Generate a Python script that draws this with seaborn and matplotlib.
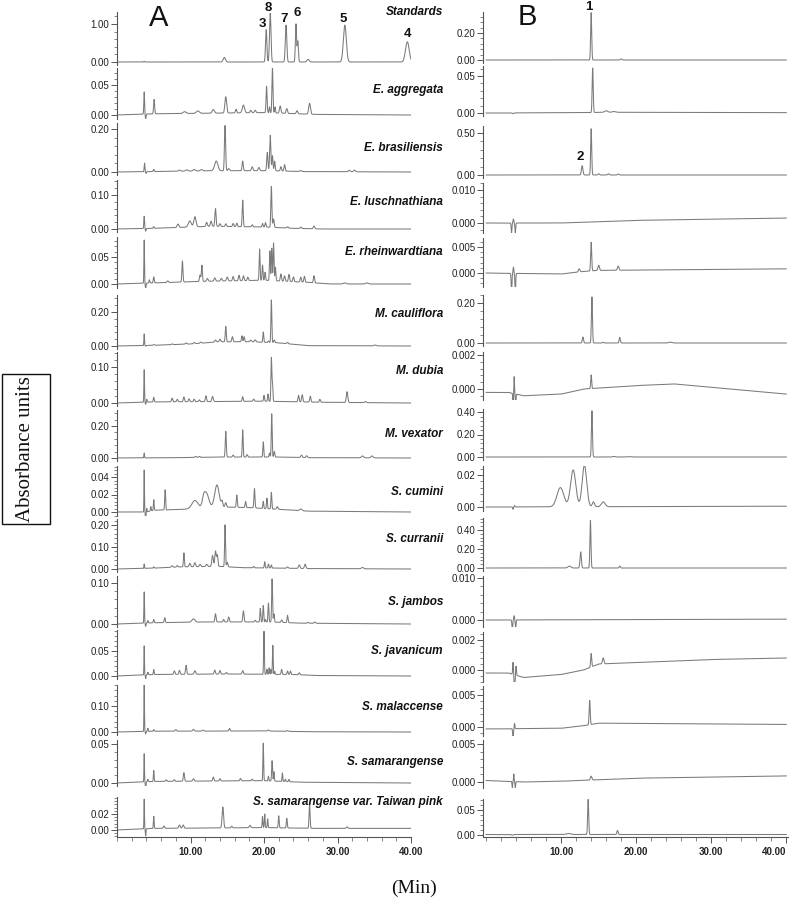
import numpy as np
import matplotlib
matplotlib.use("Agg")
import matplotlib.pyplot as plt
import seaborn as sns
from matplotlib.ticker import FixedLocator, AutoMinorLocator, MultipleLocator, FormatStrFormatter
from matplotlib.patches import Rectangle

sns.set_theme(style="white")
plt.rcParams['font.family'] = ['Liberation Sans', 'DejaVu Sans']

# ---------------- data ----------------
samples = ["Standards", "E. aggregata", "E. brasiliensis", "E. luschnathiana",
           "E. rheinwardtiana", "M. cauliflora", "M. dubia", "M. vexator",
           "S. cumini", "S. curranii", "S. jambos", "S. javanicum",
           "S. malaccense", "S. samarangense", "S. samarangense var. Taiwan pink"]

# peak tables: (retention time [min], height [AU], width sigma [min])
A_standards = [(3.7,0.02,0.04),(14.6,0.12,0.15),(20.3,0.85,0.09),(20.85,1.28,0.1),(23.0,0.97,0.1),
               (24.35,1.0,0.08),(24.6,0.55,0.08),(26.0,0.07,0.15),(31.0,0.97,0.2),(39.5,0.53,0.25)]
A_aggregata = [(3.7,0.037,0.05),(3.9,-0.008,0.05),(5.05,0.024,0.07),(9.2,0.003,0.2),(11.0,0.004,0.2),
               (13.1,0.006,0.15),(14.8,0.027,0.12),(16.2,0.006,0.08),(17.2,0.013,0.15),(18.2,0.004,0.1),
               (18.8,0.004,0.1),(20.35,0.044,0.07),(20.75,0.01,0.06),(21.15,0.075,0.07),(21.5,0.01,0.06),
               (22.2,0.012,0.1),(23.1,0.008,0.1),(24.5,0.005,0.1),(26.2,0.018,0.12)]
A_aggregata_base = [(0,0),(5,0.002),(20,0.004),(27,0.001),(40,0.0)]
A_brasiliensis = [(3.75,0.04,0.05),(3.95,-0.008,0.05),(5.0,0.01,0.07),(8.5,0.005,0.15),(9.5,0.006,0.15),
                  (10.5,0.007,0.15),(11.5,0.006,0.15),(13.5,0.045,0.22),(14.7,0.21,0.08),(15.2,0.01,0.1),
                  (17.1,0.045,0.08),(18.4,0.018,0.1),(19.3,0.015,0.1),(20.45,0.085,0.08),(20.85,0.165,0.08),
                  (21.15,0.07,0.07),(21.45,0.045,0.07),(22.3,0.02,0.08),(22.8,0.03,0.08),(25.0,0.005,0.12),
                  (31.6,0.007,0.12),(32.3,0.008,0.12)]
A_brasiliensis_base = [(0,0),(5,0.002),(13,0.006),(21,0.006),(25,0.002),(40,0)]
A_luschnathiana = [(3.7,0.036,0.05),(3.9,-0.008,0.05),(5.0,0.005,0.07),(8.3,0.01,0.12),(9.9,0.018,0.2),
                   (10.6,0.03,0.15),(12.2,0.012,0.1),(12.8,0.015,0.1),(13.4,0.052,0.08),(14.0,0.008,0.08),
                   (14.8,0.008,0.08),(15.8,0.009,0.08),(16.3,0.01,0.08),(17.1,0.078,0.07),(18.4,0.006,0.08),
                   (19.8,0.01,0.07),(20.2,0.013,0.07),(21.0,0.12,0.07),(21.3,0.025,0.08),(23.2,0.004,0.1),
                   (25.0,0.004,0.1),(26.8,0.008,0.1)]
A_luschnathiana_base = [(0,0),(5,0.002),(9,0.005),(13,0.008),(20,0.006),(24,0.002),(28,0.0),(40,0)]
A_rheinwardtiana = [(3.7,0.08,0.04),(3.9,-0.01,0.05),(4.4,0.006,0.06),(5.0,0.011,0.07),(6.9,0.003,0.1),
                    (8.9,0.039,0.07),(11.3,0.012,0.08),(11.55,0.03,0.07),(12.3,0.005,0.1),(13.3,0.006,0.1),
                    (14.2,0.005,0.1),(15.0,0.007,0.1),(15.8,0.008,0.08),(16.6,0.01,0.08),(17.2,0.009,0.08),
                    (17.8,0.006,0.08),(19.4,0.058,0.06),(19.8,0.028,0.06),(20.15,0.015,0.06),(20.8,0.055,0.06),
                    (21.05,0.06,0.06),(21.3,0.07,0.06),(21.55,0.025,0.06),(22.3,0.013,0.08),(22.8,0.01,0.08),
                    (23.4,0.013,0.08),(24.0,0.009,0.08),(25.0,0.009,0.08),(25.5,0.011,0.08),(26.8,0.013,0.08),
                    (31.0,0.002,0.2),(34.0,0.002,0.2)]
A_rheinwardtiana_base = [(0,0),(5,0.002),(12,0.005),(20,0.007),(26,0.003),(29,0.0),(40,0)]
A_cauliflora = [(3.7,0.068,0.04),(3.9,-0.004,0.05),(5.0,0.004,0.1),(7.5,0.004,0.1),(9.4,0.007,0.1),
                (10.5,0.007,0.1),(11.4,0.006,0.1),(13.4,0.012,0.1),(14.0,0.015,0.1),(14.8,0.09,0.07),
                (15.7,0.03,0.08),(17.0,0.035,0.07),(17.3,0.03,0.07),(18.2,0.01,0.1),(18.8,0.012,0.1),
                (19.9,0.06,0.06),(20.6,0.008,0.06),(21.0,0.25,0.06),(21.4,0.015,0.07),(23.2,0.008,0.1),
                (35.1,0.005,0.15)]
A_cauliflora_base = [(0,0),(5,0.004),(10,0.012),(14,0.025),(18,0.025),(21.5,0.02),(24,0.01),(26,0.002),(40,0)]
A_dubia = [(3.7,0.09,0.04),(3.9,-0.006,0.05),(4.05,0.008,0.05),(5.0,0.013,0.06),(7.5,0.01,0.08),
           (8.2,0.007,0.08),(9.1,0.013,0.08),(9.8,0.008,0.08),(10.5,0.007,0.08),(11.2,0.005,0.08),
           (12.1,0.016,0.08),(13.0,0.014,0.1),(17.1,0.013,0.07),(18.6,0.006,0.08),(20.0,0.016,0.06),
           (20.55,0.02,0.06),(21.0,0.12,0.06),(21.15,0.05,0.06),(24.7,0.018,0.08),(25.2,0.02,0.08),
           (26.3,0.016,0.08),(27.6,0.008,0.08),(31.3,0.03,0.1),(33.8,0.003,0.1)]
A_dubia_base = [(0,0),(5,0.003),(20,0.005),(28,0.002),(40,0)]
A_vexator = [(3.7,0.03,0.04),(10.7,0.006,0.1),(11.2,0.006,0.1),(14.8,0.16,0.07),(15.8,0.012,0.08),
             (17.1,0.17,0.06),(17.7,0.015,0.08),(19.9,0.095,0.06),(20.75,0.025,0.06),(21.05,0.27,0.06),
             (21.4,0.035,0.07),(25.1,0.015,0.1),(25.8,0.012,0.1),(33.4,0.012,0.15),(34.7,0.012,0.15)]
A_vexator_base = [(0,0),(8,0.002),(14,0.006),(22,0.006),(26,0.002),(40,0)]
A_cumini = [(3.7,0.048,0.035),(3.9,-0.008,0.04),(4.05,0.004,0.04),(4.6,0.005,0.05),(5.0,0.012,0.05),
            (6.55,0.023,0.06),(10.6,0.009,0.4),(11.8,0.01,0.2),(12.2,0.015,0.3),(13.6,0.025,0.3),
            (14.3,0.006,0.1),(14.8,0.005,0.1),(16.3,0.014,0.07),(17.5,0.007,0.07),(18.7,0.022,0.07),
            (19.9,0.008,0.06),(20.4,0.012,0.06),(21.0,0.019,0.06),(21.8,0.003,0.1),(25.0,0.002,0.15)]
A_cumini_base = [(0,0),(4,0.0),(5,0.002),(9,0.003),(13,0.006),(18,0.005),(22,0.003),(26,0.001),(40,0)]
A_currani = [(3.7,0.02,0.04),(5.0,0.006,0.06),(7.5,0.007,0.1),(8.2,0.007,0.1),(9.1,0.063,0.06),
             (9.9,0.015,0.1),(10.6,0.018,0.1),(11.3,0.01,0.1),(12.2,0.01,0.1),(13.0,0.05,0.1),
             (13.4,0.07,0.1),(13.65,0.05,0.08),(14.7,0.19,0.06),(15.0,0.02,0.08),(18.6,0.006,0.08),
             (20.1,0.028,0.06),(20.6,0.018,0.06),(21.0,0.014,0.06),(23.2,0.006,0.1),(24.8,0.016,0.1),
             (25.6,0.02,0.1),(33.4,0.006,0.15)]
A_currani_base = [(0,0),(5,0.004),(9,0.01),(14,0.012),(17,0.006),(22,0.004),(26,0.002),(40,0)]
A_jambos = [(3.7,0.076,0.04),(3.9,-0.008,0.05),(4.2,0.006,0.05),(5.0,0.008,0.06),(6.5,0.012,0.07),
            (10.4,0.008,0.2),(13.4,0.02,0.08),(14.5,0.006,0.08),(15.2,0.012,0.08),(17.2,0.027,0.08),
            (18.8,0.004,0.08),(19.5,0.033,0.06),(19.9,0.04,0.06),(20.2,0.006,0.05),(20.6,0.046,0.06),
            (21.1,0.105,0.06),(21.35,0.02,0.06),(22.4,0.006,0.08),(23.2,0.018,0.07),(26.0,0.002,0.1),
            (26.9,0.003,0.1)]
A_jambos_base = [(0,0),(5,0.003),(12,0.005),(21,0.005),(25,0.002),(40,0)]
A_javanicum = [(3.7,0.058,0.035),(3.9,-0.008,0.04),(4.2,0.005,0.05),(5.0,0.01,0.05),(7.8,0.007,0.08),
               (8.5,0.008,0.08),(9.4,0.018,0.08),(10.6,0.007,0.1),(13.3,0.008,0.08),(14.0,0.007,0.08),
               (14.9,0.003,0.08),(17.1,0.007,0.08),(20.0,0.086,0.05),(20.4,0.01,0.05),(20.7,0.013,0.05),
               (20.95,0.01,0.05),(21.2,0.058,0.05),(21.45,0.006,0.05),(22.4,0.01,0.07),(23.2,0.007,0.07),
               (23.6,0.007,0.07),(24.8,0.004,0.08)]
A_javanicum_base = [(0,0),(5,0.003),(15,0.004),(24,0.003),(27,0.001),(40,0)]
A_malaccense = [(3.7,0.18,0.035),(3.9,-0.01,0.04),(4.2,0.012,0.05),(5.0,0.006,0.06),(8.0,0.006,0.1),
                (10.4,0.007,0.1),(11.7,0.004,0.1),(15.3,0.01,0.08),(20.6,0.004,0.1),(23.2,0.003,0.1)]
A_malaccense_base = [(0,0),(5,0.003),(20,0.004),(26,0.001),(40,0)]
A_samarangense = [(3.7,0.036,0.035),(3.9,-0.009,0.04),(4.2,0.003,0.05),(5.0,0.014,0.05),(6.7,0.002,0.08),
                  (7.8,0.002,0.08),(9.1,0.011,0.08),(10.4,0.003,0.1),(13.1,0.005,0.08),(14.0,0.003,0.08),
                  (16.8,0.003,0.08),(18.4,0.002,0.08),(19.9,0.048,0.05),(20.6,0.006,0.05),(21.1,0.026,0.06),
                  (21.35,0.012,0.05),(22.5,0.011,0.05),(22.9,0.003,0.06),(23.4,0.003,0.06)]
A_samarangense_base = [(0,0),(5,0.002),(20,0.003),(25,0.001),(40,0.0)]
A_taiwanpink = [(3.7,0.037,0.035),(3.9,-0.009,0.04),(5.0,0.015,0.05),(6.4,0.003,0.08),(8.5,0.004,0.1),
                (9.0,0.004,0.1),(14.4,0.026,0.1),(15.6,0.002,0.08),(18.1,0.003,0.1),(19.8,0.014,0.05),
                (20.1,0.017,0.05),(20.5,0.011,0.05),(22.0,0.015,0.06),(23.1,0.012,0.06),(26.2,0.03,0.07),
                (31.3,0.002,0.1)]
A_taiwanpink_base = [(0,0),(5,0.002),(20,0.003),(27,0.002),(40,0.002)]

B_standards = [(14.0,0.35,0.07),(18.0,0.008,0.1)]
B_aggregata = [(3.6,-0.001,0.1),(14.2,0.06,0.07),(16.0,0.002,0.2),(17.0,0.001,0.2)]
B_aggregata_base = [(0,0),(13,0.0005),(16,0.001),(40,0.0005)]
B_brasiliensis = [(12.8,0.11,0.1),(14.0,0.55,0.07),(15.0,0.015,0.1),(16.3,0.015,0.1),(17.6,0.012,0.1)]
B_luschnathiana = [(3.4,-0.003,0.05),(3.65,0.0012,0.05),(3.9,-0.003,0.05)]
B_luschnathiana_base = [(0,0),(10,0),(20,0.0008),(40,0.0015)]
B_rheinwardtiana = [(3.4,-0.004,0.05),(3.65,0.0012,0.05),(3.9,-0.004,0.05),(12.4,0.0006,0.1),
                    (14.0,0.0055,0.07),(15.0,0.001,0.1),(17.6,0.0008,0.1)]
B_rheinwardtiana_base = [(0,0),(10,-0.0002),(13,0.0003),(15,0.0005),(40,0.0008)]
B_cauliflora = [(12.9,0.03,0.08),(14.1,0.23,0.07),(15.6,0.003,0.1),(17.8,0.028,0.08),(24.5,0.004,0.2)]
B_dubia = [(3.6,-0.0008,0.04),(3.75,0.001,0.04),(3.95,-0.0008,0.04),(14.0,0.0008,0.06)]
B_dubia_base = [(0,-0.0002),(3,-0.0002),(5,-0.0004),(10,-0.0003),(13,0),(20,0.0002),(25,0.0003),(30,0.0001),(40,-0.0003)]
B_vexator = [(14.1,0.41,0.07),(17.0,0.005,0.15),(19.0,0.003,0.2)]
B_cumini = [(3.6,-0.0015,0.05),(3.8,0.0008,0.05),(9.9,0.012,0.45),(11.6,0.023,0.35),(13.1,0.026,0.3),
            (14.3,0.003,0.15),(15.6,0.003,0.25)]
B_cumini_base = [(0,0),(40,0.0005)]
B_currani = [(11.1,0.02,0.2),(12.6,0.17,0.09),(13.9,0.5,0.07),(17.8,0.02,0.08)]
B_jambos = [(3.5,-0.0025,0.05),(3.75,0.001,0.05),(3.95,-0.002,0.05)]
B_jambos_base = [(0,0),(40,0.0002)]
B_javanicum = [(3.6,0.0008,0.05),(3.8,-0.0012,0.05),(4.0,0.0006,0.05),(14.0,0.0009,0.07),(15.6,0.0004,0.1)]
B_javanicum_base = [(0,-0.0002),(3,-0.0002),(5,-0.0005),(10,-0.0003),(13,0),(15,0.0004),(20,0.0005),(30,0.0007),(40,0.0008)]
B_malaccense = [(3.6,-0.0015,0.05),(3.8,0.0008,0.05),(13.8,0.0038,0.07)]
B_malaccense_base = [(0,-0.0003),(10,-0.0002),(13,0.0002),(15,0.0006),(40,0.0004)]
B_samarangense = [(3.5,-0.0008,0.04),(3.7,0.001,0.04),(3.9,-0.0008,0.04),(14.0,0.0005,0.1)]
B_samarangense_base = [(0,0.0002),(5,0.0),(10,0.0001),(20,0.0005),(40,0.0008)]
B_taiwanpink = [(3.5,-0.0015,0.1),(11.0,0.002,0.3),(13.6,0.07,0.07),(17.5,0.008,0.08)]
B_taiwanpink_base = [(0,0.001),(40,0.001)]

A_peaks = [A_standards, A_aggregata, A_brasiliensis, A_luschnathiana, A_rheinwardtiana, A_cauliflora,
           A_dubia, A_vexator, A_cumini, A_currani, A_jambos, A_javanicum, A_malaccense,
           A_samarangense, A_taiwanpink]
A_bases = [None, A_aggregata_base, A_brasiliensis_base, A_luschnathiana_base, A_rheinwardtiana_base,
           A_cauliflora_base, A_dubia_base, A_vexator_base, A_cumini_base, A_currani_base, A_jambos_base,
           A_javanicum_base, A_malaccense_base, A_samarangense_base, A_taiwanpink_base]
B_peaks = [B_standards, B_aggregata, B_brasiliensis, B_luschnathiana, B_rheinwardtiana, B_cauliflora,
           B_dubia, B_vexator, B_cumini, B_currani, B_jambos, B_javanicum, B_malaccense,
           B_samarangense, B_taiwanpink]
B_bases = [None, B_aggregata_base, None, B_luschnathiana_base, B_rheinwardtiana_base, None,
           B_dubia_base, None, B_cumini_base, None, B_jambos_base, B_javanicum_base,
           B_malaccense_base, B_samarangense_base, B_taiwanpink_base]

A_ticks = [[0,1.0],[0,0.05],[0,0.2],[0,0.1],[0,0.05],[0,0.2],[0,0.1],[0,0.2],[0,0.02,0.04],
           [0,0.1,0.2],[0,0.1],[0,0.05],[0,0.1],[0,0.05],[0,0.02]]
B_ticks = [[0,0.2],[0,0.05],[0,0.5],[0,0.01],[0,0.005],[0,0.2],[0,0.002],[0,0.2,0.4],[0,0.02],
           [0,0.2,0.4],[0,0.01],[0,0.002],[0,0.005],[0,0.005],[0,0.05]]
x_major = [10, 20, 30, 40]

standard_labels_A = ["3", "8", "7", "6", "5", "4"]
standard_labels_B = ["1", "2"]

# ---------------- layout (pixels) ----------------
W, H = 800, 900
# (top, baseline, bottom, reference tick value, reference tick pixel)
A_rows = [(12,62,65,1.0,24),(68,115,119,0.05,85),(123,172,175,0.2,129),(180,229,232,0.1,195),
          (237,284,288,0.05,257),(295,346,349,0.2,312),(352,403,406,0.1,367),(410,458,461,0.2,426),
          (466,512,516,0.04,477),(519,569,572,0.2,525),(576,624,627,0.1,583),(630,676,679,0.05,651),
          (685,732,735,0.1,706),(740,783,786,0.05,744),(797,830,837,0.02,814)]
B_rows = [(12,60,63,0.2,33),(66,113,116,0.05,76),(126,175,178,0.5,133),(183,223,233,0.01,190),
          (238,273,287,0.005,247),(295,343,346,0.2,303),(352,389,400,0.002,355),(409,457,460,0.4,412),
          (466,507,511,0.02,475),(518,568,571,0.4,530),(576,620,627,0.01,578),(632,670,682,0.002,640),
          (686,727,736,0.005,695),(740,782,788,0.005,744),(799,835,837,0.05,810)]
A_x = (117, 411, 0.0, 40.0)
B_x = (483, 788, -0.4, 40.2)
label_y = [12, 90, 148, 202, 252, 314, 371, 434, 492, 539, 602, 651, 707, 762, 802]

LINE = "#7a7a7a"
AX = "#555555"

t = np.linspace(0, 40, 4001)

def build(peaks, base):
    y = np.zeros_like(t)
    if base is not None:
        y = y + np.interp(t, [p[0] for p in base], [p[1] for p in base])
    for c, h, w in peaks:
        y = y + h * np.exp(-0.5 * ((t - c) / w) ** 2)
    return y

fig = plt.figure(figsize=(W / 100, H / 100), dpi=100)

def make_axes(xspec, row, ticks, peaks, base, last, decimals):
    x0, x1, xmin, xmax = xspec
    top, b, bot, tv, tp = row
    scale = (b - tp) / tv
    ax = fig.add_axes([x0 / W, 1 - bot / H, (x1 - x0) / W, (bot - top) / H])
    ax.set_facecolor("none")
    y = build(peaks, base)
    sns.lineplot(x=t, y=y, ax=ax, color=LINE, linewidth=0.75, estimator=None, sort=False, errorbar=None)
    ax.set_xlim(xmin, xmax)
    ax.set_ylim(-(bot - b) / scale, (b - top) / scale)
    for s in ["top", "right"]:
        ax.spines[s].set_visible(False)
    ax.spines["left"].set_color(AX)
    ax.spines["left"].set_linewidth(0.8)
    ax.yaxis.set_major_locator(FixedLocator(ticks))
    ax.yaxis.set_minor_locator(AutoMinorLocator(5))
    ax.yaxis.set_major_formatter(FormatStrFormatter("%%.%df" % decimals))
    ax.tick_params(axis="y", which="major", direction="out", length=4, width=0.7, color=AX,
                   labelsize=7, labelcolor="#222222", pad=1.5, left=True)
    ax.tick_params(axis="y", which="minor", direction="out", length=2, width=0.5, color=AX, left=True)
    ax.set_xlabel("")
    ax.set_ylabel("")
    if last:
        ax.spines["bottom"].set_color(AX)
        ax.spines["bottom"].set_linewidth(0.8)
        ax.xaxis.set_major_locator(FixedLocator(x_major))
        ax.xaxis.set_minor_locator(MultipleLocator(2))
        ax.xaxis.set_major_formatter(FormatStrFormatter("%.2f"))
        ax.tick_params(axis="x", which="major", direction="out", length=4, width=0.7, color=AX,
                       labelsize=7, labelcolor="#222222", pad=3, bottom=True)
        ax.tick_params(axis="x", which="minor", direction="out", length=3, width=0.5, color=AX, bottom=True)
        for lab in ax.get_xticklabels():
            lab.set_fontweight("bold")
    else:
        ax.spines["bottom"].set_visible(False)
        ax.set_xticks([])
    return ax

n = len(samples)
for i in range(n):
    make_axes(A_x, A_rows[i], A_ticks[i], A_peaks[i], A_bases[i], i == n - 1, 2)
    bdec = 3 if max(B_ticks[i]) < 0.015 else 2
    axb = make_axes(B_x, B_rows[i], B_ticks[i], B_peaks[i], B_bases[i], i == n - 1, bdec)
    if i == n - 1:
        labs = axb.get_xticklabels()
        labs[-1].set_horizontalalignment("right")
        labs[-1].set_x(40.2)

def ftext(x, y, s, **kw):
    fig.text(x / W, 1 - y / H, s, **kw)

for name, ly in zip(samples, label_y):
    ftext(443, ly, name, ha="right", va="center", fontsize=8.5, fontweight="bold", fontstyle="italic",
          color="#111111")

ftext(159, 18, "A", ha="center", va="center", fontsize=21, color="#111111")
ftext(527, 17, "B", ha="center", va="center", fontsize=21, color="#111111")

# peak number labels of standards
for s, (px, py) in zip(standard_labels_A, [(262, 24), (268, 8), (284, 19), (297, 13), (343, 19), (408, 34)]):
    ftext(px, py, s, ha="center", va="center", fontsize=9.5, fontweight="bold", color="#111111")
for s, (px, py) in zip(standard_labels_B, [(589, 7), (580, 157)]):
    ftext(px, py, s, ha="center", va="center", fontsize=9.5, fontweight="bold", color="#111111")

# y label box
fig.patches.append(Rectangle((2 / W, 1 - 524 / H), 48 / W, 150 / H, transform=fig.transFigure,
                             fill=False, edgecolor="#111111", linewidth=1.0))
ftext(26, 449, "Absorbance units", ha="center", va="center", rotation=90, fontsize=15,
      family=["Liberation Serif", "DejaVu Serif"], color="#111111")
ftext(414, 888, "(Min)", ha="center", va="center", fontsize=14,
      family=["Liberation Serif", "DejaVu Serif"], color="#111111")

fig.savefig("out.png", dpi=100, facecolor="white")
